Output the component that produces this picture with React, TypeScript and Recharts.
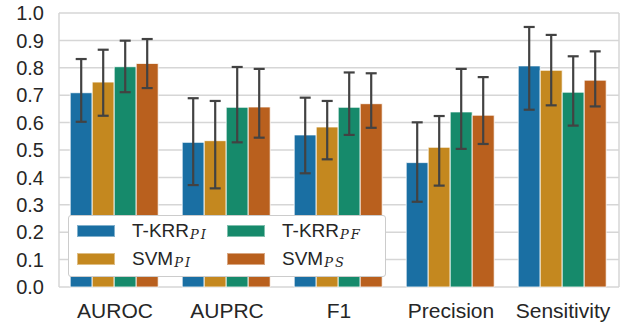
import React from "react"
import { BarChart, Bar, XAxis, YAxis, CartesianGrid, ErrorBar } from "recharts"

// ─── Data ────────────────────────────────────────────────────────────────────

const categories = ["AUROC", "AUPRC", "F1", "Precision", "Sensitivity"]

const tkrrPI = [0.709, 0.528, 0.555, 0.454, 0.807]
const tkrrPILow = [0.603, 0.372, 0.415, 0.311, 0.647]
const tkrrPIHigh = [0.832, 0.689, 0.691, 0.601, 0.949]

const svmPI = [0.748, 0.534, 0.584, 0.51, 0.791]
const svmPILow = [0.625, 0.36, 0.466, 0.37, 0.663]
const svmPIHigh = [0.866, 0.679, 0.679, 0.624, 0.92]

const tkrrPF = [0.804, 0.656, 0.656, 0.639, 0.711]
const tkrrPFLow = [0.711, 0.528, 0.555, 0.504, 0.589]
const tkrrPFHigh = [0.899, 0.803, 0.783, 0.796, 0.842]

const svmPS = [0.816, 0.657, 0.669, 0.627, 0.755]
const svmPSLow = [0.726, 0.545, 0.581, 0.522, 0.659]
const svmPSHigh = [0.905, 0.796, 0.78, 0.766, 0.86]

const yTicks = [0, 0.1, 0.2, 0.3, 0.4, 0.5, 0.6, 0.7, 0.8, 0.9, 1.0]

const SERIES = [
  { key: "tkrrPI", name: "T-KRR", sub: "PI", color: "#1a6fa3", vals: tkrrPI, lo: tkrrPILow, hi: tkrrPIHigh },
  { key: "svmPI", name: "SVM", sub: "PI", color: "#c4881f", vals: svmPI, lo: svmPILow, hi: svmPIHigh },
  { key: "tkrrPF", name: "T-KRR", sub: "PF", color: "#168a6b", vals: tkrrPF, lo: tkrrPFLow, hi: tkrrPFHigh },
  { key: "svmPS", name: "SVM", sub: "PS", color: "#b9601e", vals: svmPS, lo: svmPSLow, hi: svmPSHigh },
]

const data = categories.map((label, i) => {
  const row: Record<string, any> = { label }
  SERIES.forEach((s) => {
    row[s.key] = s.vals[i]
    row[s.key + "Err"] = [s.vals[i] - s.lo[i], s.hi[i] - s.vals[i]]
  })
  return row
})

const FONT = "'Liberation Sans', Arial, sans-serif"
const GRID = "#d6d6d6"

// ─── Legend ──────────────────────────────────────────────────────────────────

// slot positions inside the legend box, ncol=2 fill order (down first)
const LEGEND_SLOTS = [
  { left: 8, top: 15 },
  { left: 8, top: 43 },
  { left: 158, top: 15 },
  { left: 158, top: 43 },
]

function LegendItem({ name, sub, color, left, top }: { name: string; sub: string; color: string; left: number; top: number }) {
  return (
    <div style={{ position: "absolute", left, top, display: "flex", alignItems: "center", height: 0 }}>
      <div style={{ flex: "none", width: 38, height: 12, background: color, border: "1px solid rgba(255,255,255,0.45)", boxSizing: "border-box" }} />
      <span style={{ flex: "none", marginLeft: 17, fontSize: 19, lineHeight: "19px", color: "#262626", fontFamily: FONT, whiteSpace: "nowrap" }}>
        {name}
        <span style={{ fontFamily: "'DejaVu Serif', serif", fontStyle: "italic", fontSize: 13, position: "relative", top: 2, marginLeft: 1, letterSpacing: 2 }}>{sub}</span>
      </span>
    </div>
  )
}

function ChartLegend() {
  return (
    <div style={{
      position: "absolute", left: 68, top: 215, width: 318, height: 62, boxSizing: "border-box",
      background: "#ffffff", border: "1px solid #cccccc", borderRadius: 3,
    }}>
      {SERIES.map((s, i) => (
        <LegendItem key={s.key} name={s.name} sub={s.sub} color={s.color} {...LEGEND_SLOTS[i]} />
      ))}
    </div>
  )
}

// ─── Chart ───────────────────────────────────────────────────────────────────

export default function App() {
  return (
    <div style={{ position: "fixed", left: 0, top: 0, width: 629, height: 324, background: "#fff" }}>
      <BarChart width={629} height={324} data={data}
        margin={{ top: 13, right: 10, left: 0, bottom: 0 }}
        barCategoryGap="10%" barGap={0}>
        <CartesianGrid stroke={GRID} strokeWidth={1.5} horizontal vertical verticalPoints={[59, 619]} />
        <XAxis dataKey="label" height={37} tickLine={false} axisLine={false}
          tick={{ fontSize: 21, fill: "#262626", fontFamily: FONT }} tickMargin={10} interval={0} />
        <YAxis width={59} domain={[0, 1]} ticks={yTicks} tickLine={false} axisLine={false}
          interval={0} tickFormatter={(v: number) => v.toFixed(1)}
          tick={{ fontSize: 20, fill: "#262626", fontFamily: FONT }} tickMargin={9} />
        {SERIES.map((s) => (
          <Bar key={s.key} dataKey={s.key} fill={s.color} stroke="#ffffff" strokeWidth={0.8}
            isAnimationActive={false}>
            <ErrorBar dataKey={s.key + "Err"} width={5.5} stroke="#424242" strokeWidth={2.2}
              direction="y" isAnimationActive={false} />
          </Bar>
        ))}
      </BarChart>
      <ChartLegend />
    </div>
  )
}
